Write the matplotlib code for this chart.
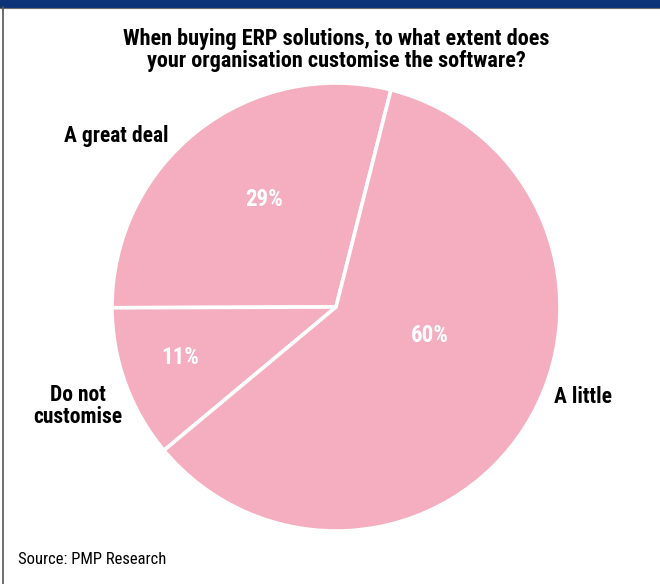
import matplotlib
matplotlib.use("Agg")
import matplotlib.pyplot as plt
from matplotlib.patches import Rectangle
from matplotlib.lines import Line2D

plt.rcParams['font.family'] = ['Roboto Condensed', 'Archivo Narrow', 'DejaVu Sans']

# survey answers, counter-clockwise from the top-right slice edge
answers = ["A great deal", "Do not\ncustomise", "A little"]
shares = [29, 11, 60]
pie_colour = "#F5AEC0"
title_lines = ["When buying ERP solutions, to what extent does",
               "your organisation customise the software?"]

W, H = 660, 584
fig = plt.figure(figsize=(W / 100, H / 100), dpi=100)

# navy band across the top and a thin frame line down the left side
fig.patches.append(Rectangle((0, 1 - 7 / H), 1, 7 / H, transform=fig.transFigure,
                             color="#0C3378", zorder=0))
fig.lines.append(Line2D([0, 1], [1 - 8 / H] * 2, transform=fig.transFigure,
                        color="#6b6b6b", lw=0.8))
fig.lines.append(Line2D([2.5 / W] * 2, [0, 1 - 7 / H], transform=fig.transFigure,
                        color="#555555", lw=1.2))

# two-line heading, baselines at 45 and 67 px from the top
for line, base in zip(title_lines, [45, 67]):
    fig.text(336 / W, 1 - base / H, line, ha="center", va="baseline",
             fontsize=16, fontweight="bold")

# pie: centre (336, 307) px, radius 224 px
cx, cy, r = 336, 307, 224
ax = fig.add_axes([(cx - r) / W, (H - cy - r) / H, 2 * r / W, 2 * r / H])
wedges, _ = ax.pie(shares, colors=[pie_colour] * len(shares), startangle=75.8,
                   counterclock=True, radius=1,
                   wedgeprops=dict(edgecolor="white", linewidth=2.6))
ax.set_xlim(-1, 1)
ax.set_ylim(-1, 1)
ax.axis("off")

# percentage labels inside each slice
pct_pos = [(264, 200), (180, 357), (430, 335)]
for v, (x, y) in zip(shares, pct_pos):
    fig.text(x / W, 1 - y / H, f"{v}%", color="white", fontsize=16.5,
             fontweight="bold", ha="center", va="center")

# category names outside the pie
name_pos = [(116, 136), (78, 406), (583, 397)]
for name, (x, y) in zip(answers, name_pos):
    fig.text(x / W, 1 - y / H, name, color="black", fontsize=15.5,
             fontweight="bold", ha="center", va="center", linespacing=1.0)

fig.text(18 / W, 1 - 560 / H, "Source: PMP Research", fontsize=12, ha="left", va="center")

fig.savefig("out.png", dpi=100)
